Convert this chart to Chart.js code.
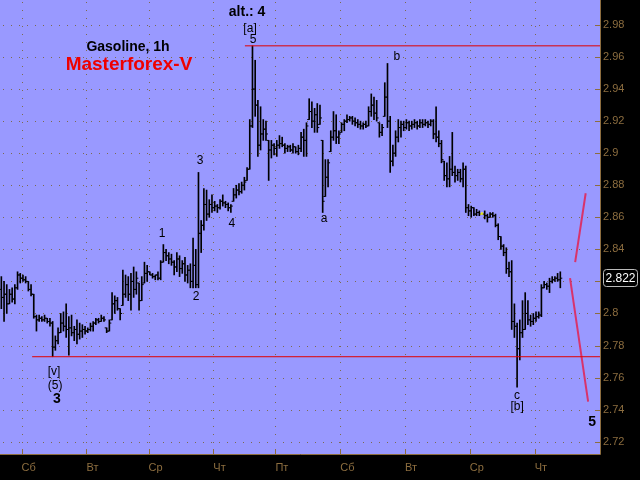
<!DOCTYPE html>
<html>
<head>
<meta charset="utf-8">
<script src="https://cdn.jsdelivr.net/npm/chart.js@4.4.0/dist/chart.umd.min.js"></script>
<style>
  html, body { margin: 0; padding: 0; background: #000; }
  #c { display: block; }
</style>
</head>
<body>
<canvas id="c" width="640" height="480"></canvas>
<script>
// Gasoline 1h bars (index 0 = first bar on the left)
const highs = [
  2.823,2.820,2.818,2.815,2.816,2.818,2.826,2.825,2.824,2.823,
  2.820,2.818,2.812,2.799,2.799,2.798,2.799,2.797,2.797,2.795,
  2.786,2.791,2.800,2.801,2.806,2.798,2.799,2.792,2.796,2.794,
  2.793,2.792,2.791,2.794,2.795,2.797,2.797,2.799,2.798,2.791,
  2.796,2.813,2.811,2.810,2.803,2.827,2.824,2.823,2.825,2.829,
  2.826,2.819,2.823,2.832,2.830,2.826,2.825,2.824,2.826,2.833,
  2.843,2.840,2.838,2.837,2.833,2.838,2.836,2.833,2.835,2.830,
  2.831,2.847,2.840,2.888,2.858,2.878,2.877,2.871,2.874,2.870,
  2.868,2.871,2.874,2.870,2.869,2.868,2.878,2.880,2.881,2.882,
  2.885,2.891,2.921,2.967,2.958,2.933,2.929,2.921,2.920,2.908,
  2.908,2.906,2.908,2.911,2.910,2.906,2.905,2.905,2.906,2.904,
  2.905,2.913,2.915,2.919,2.934,2.932,2.928,2.931,2.930,2.908,
  2.896,2.896,2.914,2.926,2.924,2.914,2.919,2.921,2.924,2.923,
  2.923,2.922,2.921,2.920,2.919,2.920,2.929,2.937,2.935,2.933,
  2.919,2.918,2.944,2.956,2.923,2.905,2.914,2.921,2.920,2.920,
  2.921,2.920,2.920,2.921,2.920,2.921,2.921,2.921,2.920,2.921,
  2.921,2.929,2.914,2.908,2.895,2.894,2.898,2.913,2.892,2.890,
  2.890,2.894,2.892,2.868,2.867,2.866,2.865,2.864,2.863,2.864,
  2.862,2.863,2.863,2.862,2.856,2.848,2.843,2.841,2.832,2.833,
  2.806,2.794,2.796,2.808,2.813,2.808,2.799,2.800,2.801,2.801,
  2.818,2.820,2.819,2.822,2.823,2.823,2.825,2.826
];
const lows = [
  2.803,2.795,2.800,2.806,2.807,2.806,2.815,2.819,2.820,2.819,
  2.814,2.811,2.797,2.789,2.795,2.795,2.795,2.794,2.792,2.773,
  2.777,2.781,2.788,2.789,2.785,2.774,2.786,2.783,2.781,2.784,
  2.785,2.787,2.788,2.789,2.789,2.793,2.794,2.795,2.795,2.788,
  2.789,2.796,2.800,2.802,2.796,2.805,2.810,2.808,2.802,2.810,
  2.812,2.802,2.808,2.819,2.820,2.824,2.822,2.821,2.821,2.821,
  2.832,2.833,2.831,2.830,2.824,2.826,2.823,2.825,2.820,2.819,
  2.816,2.816,2.816,2.816,2.838,2.852,2.858,2.860,2.863,2.864,
  2.863,2.865,2.867,2.866,2.864,2.863,2.870,2.872,2.874,2.875,
  2.877,2.883,2.890,2.916,2.923,2.898,2.902,2.908,2.908,2.883,
  2.897,2.899,2.898,2.903,2.904,2.900,2.901,2.901,2.900,2.900,
  2.899,2.901,2.898,2.898,2.921,2.916,2.913,2.913,2.918,2.863,
  2.873,2.879,2.901,2.908,2.906,2.906,2.913,2.914,2.919,2.920,
  2.918,2.917,2.916,2.915,2.915,2.916,2.917,2.923,2.921,2.920,
  2.910,2.911,2.923,2.916,2.888,2.892,2.898,2.907,2.910,2.914,
  2.915,2.914,2.915,2.916,2.915,2.916,2.916,2.917,2.916,2.917,
  2.909,2.907,2.904,2.894,2.883,2.879,2.879,2.886,2.882,2.883,
  2.882,2.879,2.863,2.861,2.860,2.861,2.861,2.861,2.862,2.859,
  2.857,2.860,2.860,2.854,2.846,2.840,2.836,2.825,2.823,2.790,
  2.785,2.754,2.771,2.785,2.790,2.793,2.792,2.793,2.795,2.797,
  2.798,2.816,2.815,2.813,2.819,2.820,2.820,2.816
];
const opens = [
  2.815,2.810,2.812,2.806,2.812,2.809,2.816,2.824,2.822,2.821,
  2.820,2.815,2.812,2.798,2.796,2.797,2.796,2.797,2.795,2.794,
  2.779,2.783,2.788,2.794,2.792,2.790,2.791,2.788,2.790,2.787,
  2.789,2.790,2.789,2.790,2.792,2.794,2.796,2.795,2.797,2.791,
  2.789,2.796,2.806,2.808,2.803,2.805,2.812,2.818,2.812,2.820,
  2.815,2.819,2.808,2.819,2.825,2.826,2.824,2.823,2.824,2.822,
  2.832,2.838,2.836,2.834,2.832,2.829,2.834,2.828,2.831,2.824,
  2.827,2.820,2.830,2.818,2.850,2.855,2.868,2.862,2.868,2.866,
  2.867,2.866,2.870,2.869,2.868,2.866,2.870,2.874,2.877,2.876,
  2.880,2.883,2.890,2.917,2.940,2.930,2.905,2.912,2.915,2.908,
  2.902,2.905,2.903,2.905,2.906,2.905,2.903,2.904,2.902,2.904,
  2.901,2.903,2.910,2.908,2.921,2.926,2.920,2.924,2.918,2.908,
  2.873,2.885,2.901,2.910,2.914,2.910,2.913,2.918,2.920,2.921,
  2.922,2.920,2.919,2.918,2.917,2.918,2.917,2.926,2.930,2.925,
  2.919,2.913,2.923,2.935,2.920,2.895,2.900,2.910,2.916,2.918,
  2.916,2.919,2.917,2.918,2.919,2.917,2.919,2.918,2.919,2.918,
  2.920,2.912,2.910,2.906,2.895,2.886,2.884,2.890,2.888,2.886,
  2.888,2.884,2.890,2.866,2.864,2.866,2.862,2.863,2.862,2.862,
  2.861,2.860,2.862,2.861,2.855,2.848,2.842,2.838,2.828,2.826,
  2.795,2.792,2.778,2.788,2.790,2.800,2.796,2.795,2.797,2.798,
  2.799,2.816,2.818,2.817,2.820,2.821,2.822,2.821
];
const closes = [
  2.810,2.812,2.806,2.812,2.809,2.816,2.824,2.822,2.821,2.820,
  2.815,2.812,2.798,2.796,2.797,2.796,2.797,2.795,2.794,2.779,
  2.783,2.788,2.794,2.792,2.790,2.791,2.788,2.790,2.787,2.789,
  2.790,2.789,2.790,2.792,2.794,2.796,2.795,2.797,2.796,2.789,
  2.794,2.806,2.808,2.803,2.800,2.812,2.818,2.812,2.820,2.815,
  2.822,2.808,2.818,2.825,2.826,2.824,2.823,2.824,2.822,2.832,
  2.838,2.836,2.834,2.832,2.829,2.834,2.828,2.831,2.824,2.827,
  2.820,2.830,2.818,2.850,2.855,2.868,2.862,2.868,2.866,2.867,
  2.866,2.870,2.869,2.868,2.866,2.867,2.874,2.877,2.876,2.880,
  2.882,2.890,2.917,2.940,2.930,2.905,2.912,2.915,2.912,2.902,
  2.905,2.903,2.905,2.906,2.905,2.903,2.904,2.902,2.904,2.901,
  2.903,2.910,2.908,2.917,2.926,2.920,2.924,2.916,2.922,2.870,
  2.885,2.894,2.910,2.914,2.910,2.912,2.918,2.920,2.921,2.922,
  2.920,2.919,2.918,2.917,2.918,2.917,2.926,2.930,2.925,2.922,
  2.913,2.916,2.935,2.920,2.895,2.900,2.910,2.916,2.918,2.916,
  2.919,2.917,2.918,2.919,2.917,2.919,2.918,2.919,2.918,2.920,
  2.912,2.910,2.906,2.896,2.886,2.884,2.890,2.888,2.886,2.888,
  2.884,2.890,2.866,2.864,2.866,2.862,2.863,2.862,2.862,2.861,
  2.860,2.862,2.861,2.855,2.848,2.842,2.838,2.828,2.826,2.795,
  2.792,2.778,2.788,2.790,2.800,2.796,2.795,2.797,2.798,2.799,
  2.816,2.818,2.817,2.820,2.821,2.822,2.821,2.822
];

// time axis: bar index where each day starts
const dayStarts = [8, 32, 55, 79, 102, 126, 150, 174, 198];
const dayLabels = ['Сб', 'Вт', 'Ср', 'Чт', 'Пт', 'Сб', 'Вт', 'Ср', 'Чт'];
const priceTicks = [2.72, 2.74, 2.76, 2.78, 2.8, 2.82, 2.84, 2.86, 2.88, 2.9, 2.92, 2.94, 2.96, 2.98];

// horizontal levels: [from bar, price]
const levels = [[90.7, 2.967], [11.9, 2.773]];
// projected wave 5 lines: [x1, y1, x2, y2]
const projections = [[213.0, 2.832, 216.9, 2.875], [211.1, 2.822, 217.8, 2.745]];

// wave marks: [text, bar, price]
const waveMarks = [
  ['[a]', 92.6, 2.978], ['5', 93.7, 2.9706],
  ['3', 74.1, 2.8951], ['1', 60.0, 2.8496], ['2', 72.6, 2.8103], ['4', 85.9, 2.8558],
  ['a', 120.0, 2.8589], ['b', 147.0, 2.960],
  ['[v]', 20.0, 2.7635], ['(5)', 20.4, 2.7547],
  ['c', 191.5, 2.7485], ['[b]', 191.5, 2.7416]
];
const bigMarks = [['alt.: 4', 91.5, 2.9881], ['3', 21.1, 2.7466], ['5', 219.3, 2.7323]];

const X_MAX = 222.2;
const Y_MIN = 2.7123, Y_MAX = 2.9956;
const BROWN = '#8c6d3f';
const FONT = '"Liberation Sans", Arial, sans-serif';

const isDoji = i => opens[i] === closes[i];

const paint = {
  id: 'paint',
  beforeDraw(chart) {
    const { ctx, chartArea: a } = chart;
    ctx.save();
    ctx.fillStyle = '#000';
    ctx.fillRect(0, 0, chart.width, chart.height);
    ctx.fillStyle = '#9999ff';
    ctx.fillRect(a.left, a.top, a.right - a.left, a.bottom - a.top);
    ctx.restore();
  },
  beforeDatasetsDraw(chart) {
    // dotted grid
    const { ctx, chartArea: a } = chart;
    const xs = chart.scales.x, ys = chart.scales.y;
    ctx.save();
    ctx.fillStyle = '#7d6a4e';
    priceTicks.forEach(v => {
      const y = Math.round(ys.getPixelForValue(v));
      for (let x = a.left + 3; x < a.right - 5; x += 8) ctx.fillRect(x, y, 1, 1);
    });
    dayStarts.forEach(v => {
      const x = Math.round(xs.getPixelForValue(v));
      for (let y = a.top + 2; y < a.bottom - 5; y += 8) ctx.fillRect(x, y, 1, 1);
    });
    ctx.restore();
  },
  afterDraw(chart) {
    const { ctx, chartArea: a } = chart;
    const xs = chart.scales.x, ys = chart.scales.y;
    ctx.save();
    // axis lines and small tick marks inside the plot
    ctx.strokeStyle = BROWN;
    ctx.lineWidth = 1;
    ctx.beginPath();
    ctx.moveTo(a.left, a.bottom + 0.5); ctx.lineTo(a.right + 0.5, a.bottom + 0.5);
    ctx.lineTo(a.right + 0.5, a.top);
    priceTicks.forEach(v => {
      const y = Math.round(ys.getPixelForValue(v)) + 0.5;
      ctx.moveTo(a.right - 5, y); ctx.lineTo(a.right, y);
    });
    dayStarts.forEach(v => {
      const x = Math.round(xs.getPixelForValue(v)) + 0.5;
      ctx.moveTo(x, a.bottom - 5); ctx.lineTo(x, a.bottom);
    });
    ctx.stroke();

    // wave labels
    ctx.fillStyle = '#000';
    ctx.textAlign = 'center';
    ctx.textBaseline = 'middle';
    ctx.font = '12px ' + FONT;
    waveMarks.forEach(([t, x, p]) => ctx.fillText(t, xs.getPixelForValue(x), ys.getPixelForValue(p)));
    ctx.font = 'bold 14px ' + FONT;
    bigMarks.forEach(([t, x, p]) => ctx.fillText(t, xs.getPixelForValue(x), ys.getPixelForValue(p)));

    // title
    ctx.font = 'bold 14px ' + FONT;
    ctx.fillText('Gasoline, 1h', 128, 47);
    ctx.fillStyle = '#ee0000';
    ctx.font = 'bold 19px ' + FONT;
    ctx.fillText('Masterforex-V', 129, 65);

    // last price box
    const last = closes[closes.length - 1];
    const py = Math.round(ys.getPixelForValue(last));
    ctx.fillStyle = '#000';
    ctx.strokeStyle = '#bbbbbb';
    ctx.beginPath();
    ctx.roundRect(603.5, py - 8.5, 34, 17, 3);
    ctx.fill();
    ctx.stroke();
    ctx.fillStyle = '#ffffff';
    ctx.font = '12px ' + FONT;
    ctx.fillText(last.toFixed(3), 620.5, py + 0.5);
    ctx.restore();
  }
};

const barData = highs.map((h, i) => ({ x: i + 0.5, y: [lows[i], h] }));
const openData = opens.map((o, i) => ({ x: i + 0.1, y: o }));
const closeData = closes.map((c, i) => ({ x: i + 0.9, y: c }));
const tickColor = c => isDoji(c.dataIndex) ? '#ffff00' : '#000';

const datasets = [
  {
    type: 'bar', data: barData, barThickness: 1, borderWidth: 0,
    backgroundColor: tickColor, order: 3
  },
  {
    type: 'line', data: openData, showLine: false, pointStyle: 'line',
    pointRadius: 0.9, pointBorderWidth: 1, pointBorderColor: tickColor, order: 2
  },
  {
    type: 'line', data: closeData, showLine: false, pointStyle: 'line',
    pointRadius: 0.9, pointBorderWidth: 1, pointBorderColor: tickColor, order: 2
  }
];
levels.forEach(([from, p]) => datasets.push({
  type: 'line', data: [{ x: from, y: p }, { x: X_MAX, y: p }],
  borderColor: '#e00000', borderWidth: 1, pointRadius: 0, order: 1
}));
projections.forEach(([x1, y1, x2, y2]) => datasets.push({
  type: 'line', data: [{ x: x1, y: y1 }, { x: x2, y: y2 }],
  borderColor: '#d8336b', borderWidth: 2, pointRadius: 0, order: 1
}));

new Chart(document.getElementById('c'), {
  type: 'bar',
  data: { datasets },
  options: {
    responsive: false,
    animation: false,
    events: [],
    layout: { padding: 0, autoPadding: false },
    plugins: { legend: { display: false }, tooltip: { enabled: false } },
    scales: {
      x: {
        type: 'linear', min: 0, max: X_MAX, offset: false,
        afterBuildTicks: s => { s.ticks = dayStarts.map(v => ({ value: v })); },
        afterFit: s => { s.height = 26; s.paddingLeft = 0; s.paddingRight = 0; },
        ticks: {
          autoSkip: false, maxRotation: 0, align: 'start', padding: 7,
          color: BROWN, font: { family: FONT, size: 11 },
          callback: v => dayLabels[dayStarts.indexOf(v)]
        },
        grid: { display: false, offset: false, drawTicks: false },
        border: { display: false }
      },
      y: {
        type: 'linear', position: 'right', min: Y_MIN, max: Y_MAX,
        afterBuildTicks: s => { s.ticks = priceTicks.map(v => ({ value: v })); },
        afterFit: s => { s.width = 40; s.paddingTop = 0; s.paddingBottom = 0; },
        ticks: {
          padding: 3, color: BROWN, font: { family: FONT, size: 11 },
          callback: v => String(+v.toFixed(2))
        },
        grid: { display: false, drawTicks: false },
        border: { display: false }
      }
    }
  },
  plugins: [paint]
});
</script>
</body>
</html>
